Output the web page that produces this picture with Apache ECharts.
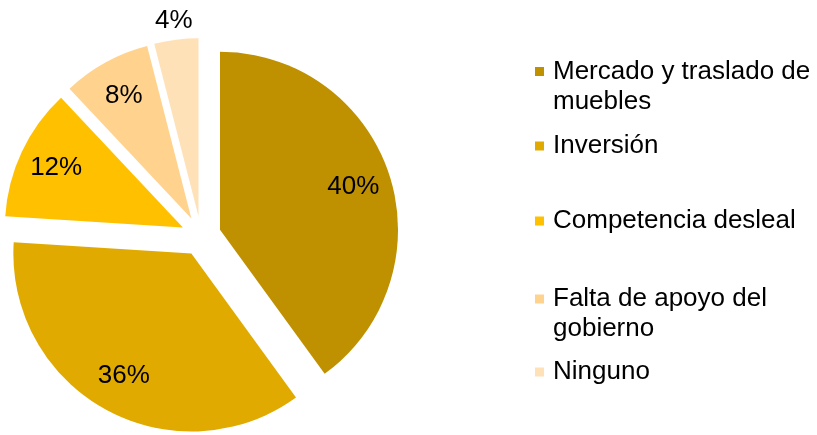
<!DOCTYPE html>
<html>
<head>
<meta charset="utf-8">
<script src="https://cdn.jsdelivr.net/npm/echarts@6/dist/echarts.min.js"></script>
<style>
html,body{margin:0;padding:0;background:#fff;}
#chart{width:817px;height:435px;}
</style>
</head>
<body>
<div id="chart"></div>
<script>
// ---- data ----
const categories = ['Mercado y traslado de muebles', 'Inversión', 'Competencia desleal', 'Falta de apoyo del gobierno', 'Ninguno'];
const values = [40, 36, 12, 8, 4];
const legendLabels = ['Mercado y traslado de\nmuebles', 'Inversión', 'Competencia desleal', 'Falta de apoyo del\ngobierno', 'Ninguno'];

// ---- style ----
const colors = ['#BF9000', '#E0AA00', '#FFC000', '#FFD28E', '#FFE1B8'];
const FONT = '"Liberation Sans", Arial, sans-serif';
const center = [201, 236];
const R = 178;
const explode = 20;
const legendTops = [26.5, 131, 206, 254, 357];

function pieData(withColor) {
  return categories.map((name, i) => ({
    name: name,
    value: values[i],
    selected: true,
    itemStyle: withColor ? { color: colors[i] } : { color: 'rgba(0,0,0,0)' }
  }));
}

function labelPie(radius, showIdx) {
  const data = pieData(false).map((d, i) => Object.assign(d, {
    label: { show: showIdx.indexOf(i) >= 0 }
  }));
  return {
    type: 'pie',
    center: center,
    radius: radius,
    startAngle: 90,
    clockwise: true,
    selectedMode: 'multiple',
    selectedOffset: explode,
    silent: true,
    animation: false,
    label: {
      position: 'inside',
      formatter: '{c}%',
      color: '#000',
      fontSize: 26,
      fontFamily: FONT
    },
    labelLine: { show: false },
    emphasis: { disabled: true },
    data: data,
    z: 3
  };
}

const legends = categories.map((name, i) => {
  const multi = legendLabels[i].indexOf('\n') >= 0;
  return {
    data: [name],
    left: 535,
    top: legendTops[i],
    orient: 'vertical',
    icon: 'rect',
    itemWidth: 9,
    itemHeight: 9,
    padding: 0,
    selectedMode: false,
    // leading empty line keeps the marker level with the first text line
    formatter: () => (multi ? '\n' : '') + legendLabels[i],
    textStyle: {
      fontSize: 26,
      lineHeight: 30,
      fontFamily: FONT,
      color: '#000',
      padding: [0, 0, 0, 4]
    }
  };
});

const option = {
  animation: false,
  backgroundColor: '#fff',
  legend: legends,
  series: [
    {
      type: 'pie',
      center: center,
      radius: R,
      startAngle: 90,
      clockwise: true,
      selectedMode: 'multiple',
      selectedOffset: explode,
      label: { show: false },
      labelLine: { show: false },
      emphasis: { disabled: true },
      data: pieData(true),
      z: 2
    },
    labelPie(R * 1.54, [0, 1, 2, 3]),
    labelPie((R + explode) * 2 - 8, [4])
  ]
};

const chart = echarts.init(document.getElementById('chart'), null, { renderer: 'canvas' });
chart.setOption(option);
</script>
</body>
</html>
